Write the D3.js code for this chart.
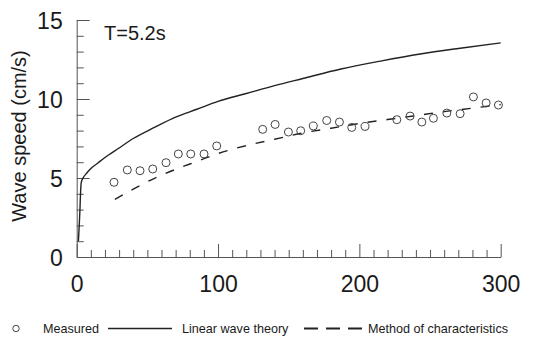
<!DOCTYPE html>
<html>
<head>
<meta charset="utf-8">
<script src="https://cdn.jsdelivr.net/npm/d3@7"></script>
<style>
  html, body { margin: 0; padding: 0; background: #fff; }
  svg { display: block; font-family: "Liberation Sans", Arial, Helvetica, sans-serif; }
</style>
</head>
<body>
<svg id="chart" width="533" height="341"></svg>
<script>
// Measured wave speed (cm/s) against distance
const measX = [26.4, 35.8, 44.8, 53.8, 63.2, 71.9, 80.7, 90.1, 99.1, 131.6, 140.4, 149.8, 158.5, 167.4, 176.9, 185.9, 194.6, 204, 226.5, 235.9, 244.2, 252.4, 261.9, 271.3, 280.7, 289.7, 298.4];
const measY = [4.73, 5.51, 5.46, 5.57, 5.97, 6.52, 6.52, 6.52, 7.03, 8.08, 8.39, 7.91, 7.99, 8.29, 8.64, 8.54, 8.2, 8.26, 8.69, 8.92, 8.54, 8.78, 9.11, 9.07, 10.13, 9.75, 9.62];

// Linear wave theory
const lwtX = [1.2, 1.8, 2.3, 2.7, 3.2, 4.5, 7, 10, 15, 20, 30, 40, 55, 70, 85, 100, 120, 140, 160, 187, 215, 243, 270, 300];
const lwtY = [1.0, 2.0, 3.0, 4.0, 4.7, 5.0, 5.3, 5.6, 5.95, 6.3, 6.9, 7.5, 8.2, 8.85, 9.35, 9.85, 10.35, 10.85, 11.3, 11.9, 12.4, 12.85, 13.2, 13.55];

// Method of characteristics
const mocX = [27, 40, 55, 70, 85, 100, 120, 140, 160, 180, 200, 220, 240, 260, 280, 300];
const mocY = [3.65, 4.3, 4.98, 5.55, 6.05, 6.55, 7.05, 7.45, 7.85, 8.15, 8.45, 8.7, 8.95, 9.2, 9.42, 9.65];

// Axis ticks
const xMajor = [0, 100, 200, 300];
const xMinor = d3.range(10, 300, 10).filter(v => v % 100 !== 0);
const yMajor = [0, 5, 10, 15];
const yMinor = d3.range(1, 15, 1).filter(v => v % 5 !== 0);

const titleY = "Wave speed (cm/s)";
const annotation = "T=5.2s";
const legendLabels = ["Measured", "Linear wave theory", "Method of characteristics"];

const svg = d3.select("#chart");
const axisColor = "#555";
const inkColor = "#1a1a1a";

const x = d3.scaleLinear().domain([0, 300]).range([76.7, 500.7]);
const y = d3.scaleLinear().domain([0, 15]).range([257, 20]);

// x axis: minor ticks, then labelled major ticks
const gxMinor = svg.append("g").attr("transform", `translate(0,${y(0)})`)
  .call(d3.axisBottom(x).tickValues(xMinor).tickSizeInner(-7).tickSizeOuter(0).tickFormat(""));
const gx = svg.append("g").attr("transform", `translate(0,${y(0)})`)
  .call(d3.axisBottom(x).tickValues(xMajor).tickSizeInner(-13).tickSizeOuter(0).tickPadding(0));
gx.selectAll("text").attr("y", 34.5).attr("dy", 0)
  .style("font-size", "23px").attr("fill", inkColor);

// y axis
const gyMinor = svg.append("g").attr("transform", `translate(${x(0)},0)`)
  .call(d3.axisLeft(y).tickValues(yMinor).tickSizeInner(-7).tickSizeOuter(0).tickFormat(""));
const gy = svg.append("g").attr("transform", `translate(${x(0)},0)`)
  .call(d3.axisLeft(y).tickValues(yMajor).tickSizeInner(-13).tickSizeOuter(0).tickPadding(14));
gy.selectAll("text").attr("dy", "0.36em")
  .style("font-size", "23px").attr("fill", inkColor);

[gxMinor, gx, gyMinor, gy].forEach(g => {
  g.selectAll("path, line").attr("stroke", axisColor).attr("stroke-width", 1);
  g.attr("font-family", null);
});
gxMinor.select(".domain").remove();
gyMinor.select(".domain").remove();

// y axis title
svg.append("text")
  .attr("transform", `translate(26,136) rotate(-90)`)
  .attr("text-anchor", "middle")
  .style("font-size", "20px")
  .attr("fill", inkColor)
  .text(titleY);

// period annotation
svg.append("text")
  .attr("x", 104).attr("y", 40)
  .style("font-size", "20px")
  .attr("fill", inkColor)
  .text(annotation);

const line = d3.line()
  .x(d => x(d[0]))
  .y(d => y(d[1]))
  .curve(d3.curveMonotoneX);

// linear wave theory
svg.append("path")
  .datum(d3.zip(lwtX, lwtY))
  .attr("d", line)
  .attr("fill", "none")
  .attr("stroke", "#222")
  .attr("stroke-width", 1.4);

// method of characteristics
svg.append("path")
  .datum(d3.zip(mocX, mocY))
  .attr("d", line)
  .attr("fill", "none")
  .attr("stroke", "#222")
  .attr("stroke-width", 1.4)
  .attr("stroke-dasharray", "9,10");

// measured points
svg.append("g").selectAll("circle")
  .data(d3.zip(measX, measY))
  .join("circle")
  .attr("cx", d => x(d[0]))
  .attr("cy", d => y(d[1]))
  .attr("r", 4)
  .attr("fill", "none")
  .attr("stroke", "#444")
  .attr("stroke-width", 1);

// legend
const ly = 328.5;
const legend = svg.append("g").style("font-size", "12.6px").attr("fill", inkColor);
legend.append("circle").attr("cx", 16).attr("cy", ly).attr("r", 3.2)
  .attr("fill", "none").attr("stroke", "#444").attr("stroke-width", 1);
legend.append("text").attr("x", 43).attr("y", 333).text(legendLabels[0]);
legend.append("line").attr("x1", 108).attr("x2", 172).attr("y1", ly).attr("y2", ly)
  .attr("stroke", "#222").attr("stroke-width", 1.4);
legend.append("text").attr("x", 182).attr("y", 333).text(legendLabels[1]);
legend.append("line").attr("x1", 304).attr("x2", 362).attr("y1", ly).attr("y2", ly)
  .attr("stroke", "#222").attr("stroke-width", 2).attr("stroke-dasharray", "14,8");
legend.append("text").attr("x", 368).attr("y", 333).text(legendLabels[2]);
</script>
</body>
</html>
